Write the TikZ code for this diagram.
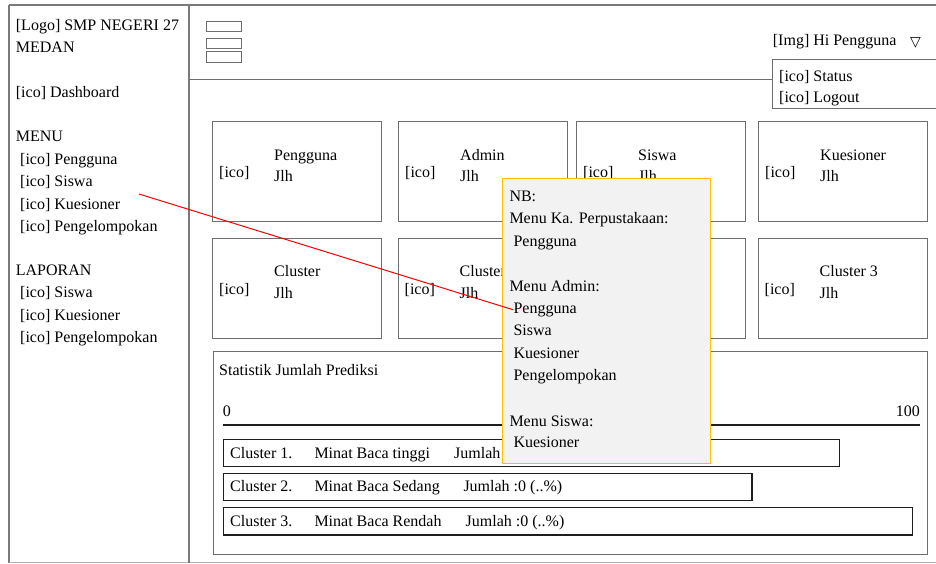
\documentclass[tikz,border=0pt]{standalone}
\usepackage{fontspec}
\setmainfont{Liberation Serif}
\newfontfamily\symfont{DejaVu Sans}
\definecolor{framegray}{HTML}{7A7A7A}
\definecolor{boxgray}{HTML}{6E6E6E}
\definecolor{bardark}{HTML}{1E1E1E}
\definecolor{notefill}{HTML}{F2F2F2}
\definecolor{noteedge}{HTML}{FFC000}
\definecolor{pointred}{HTML}{FF0000}
\begin{document}
\begin{tikzpicture}[x={(1pt,0pt)},y={(0pt,-1pt)},
  txt/.style={inner sep=0pt, anchor=base west, font=\fontsize{16}{19}\selectfont},
  txtr/.style={txt, anchor=base east},
  frameline/.style={draw=framegray, line width=1.4pt},
  thinline/.style={draw=boxgray, line width=0.9pt},
  cardbox/.style={draw=boxgray, line width=1pt, inner sep=0pt, anchor=north west,
                  minimum width=169pt, minimum height=100pt},
  barbox/.style={draw=bardark, line width=1.4pt},
  notebox/.style={draw=noteedge, fill=notefill, line width=1.3pt},
  pointer/.style={draw=pointred, line width=1pt}]

% page area
\useasboundingbox (0,0) rectangle (936,563);

% outer frame, sidebar and header
\draw[draw=framegray, line width=2.4pt] (9,5) -- (936,5);
\draw[frameline] (9,5) -- (9,563);
\draw[draw=black!30, line width=1.2pt] (9,562.3) -- (936,562.3);
\draw[frameline] (189,5) -- (189,563);
\coordinate (hdrL) at (189,79.5);
\coordinate (hdrR) at (772.7,79.5);
\draw[thinline] (hdrL) -- (hdrR);

% hamburger icon
\draw[thinline] (206,21) rectangle (241,31.5);
\draw[thinline] (206,38) rectangle (241,48);
\draw[thinline] (206,51.7) rectangle (241,62);

% sidebar menu
\node[txt] (logo) at (15.7,30.5) {[Logo] SMP NEGERI 27};
\node[txt] (medan) at (15.7,52) {MEDAN};
\node[txt] (dash) at (15.7,97) {[ico] Dashboard};
\node[txt] (menu) at (15.7,141.7) {MENU};
\node[txt] (mPeng) at (20,164) {[ico] Pengguna};
\node[txt] (mSis) at (20,186.7) {[ico] Siswa};
\node[txt] (mKues) at (20,209) {[ico] Kuesioner};
\node[txt] (mKel) at (20,231.5) {[ico] Pengelompokan};
\node[txt] (lap) at (15.7,275) {LAPORAN};
\node[txt] (lSis) at (20,297.7) {[ico] Siswa};
\node[txt] (lKues) at (20,320) {[ico] Kuesioner};
\node[txt] (lKel) at (20,342.5) {[ico] Pengelompokan};

% user menu in header
\node[txt] (user) at (772.7,45) {[Img] Hi Pengguna};
\node[inner sep=0pt, font=\symfont\fontsize{14}{14}\selectfont] (caret) at (915.5,42.5) {▽};
\draw[thinline] (940,59.3) -- (772.7,59.3) -- (772.7,108) -- (940,108);
\node[txt] (uStat) at (779,81.5) {[ico] Status};
\node[txt] (uOut) at (779,102) {[ico] Logout};

% summary cards, first row
\foreach \n/\x/\t in {1/212/Pengguna,2/398/Admin,3/576/Siswa,4/758/Kuesioner}{
  \node[cardbox] (cardA\n) at (\x,121) {};
  \node[txt] (cardAico\n) at (\x+7,177) {[ico]};
  \node[txt] (cardAt\n) at (\x+62,160) {\t};
  \node[txt] (cardAj\n) at (\x+62,181.5) {Jlh};
}
% summary cards, second row (the third one lies under the note)
\node[cardbox] (cardB3) at (575.5,238) {};
\foreach \n/\x/\t in {1/212/Cluster,2/397.5/Cluster,4/757.5/Cluster 3}{
  \node[cardbox] (cardB\n) at (\x,238) {};
  \node[txt] (cardBico\n) at (\x+7,294) {[ico]};
  \node[txt] (cardBt\n) at (\x+62,276.7) {\t};
  \node[txt] (cardBj\n) at (\x+62,298.5) {Jlh};
}

% statistics panel
\node[draw=boxgray, line width=1pt, inner sep=0pt, anchor=north west,
      minimum width=714pt, minimum height=203.8pt] (statbox) at (212.7,350.5) {};
\node[txt] (statT) at (219,375) {Statistik Jumlah Prediksi};
\node[txt] (ax0) at (222.7,416.7) {0};
\node[txtr] (ax100) at (920,416.7) {100};
\coordinate (axL) at (223.3,425);
\coordinate (axR) at (920,425);
\draw[draw=bardark, line width=2pt] (axL) -- (axR);

\draw[barbox] (223.3,439.3) rectangle (839.3,466.7);
\draw[barbox] (223.3,473.3) rectangle (752,500.7);
\draw[barbox] (223.3,507.3) rectangle (912.3,535);
\node[txt] (b1a) at (230,458.3) {Cluster 1.};
\node[txt] (b1b) at (314.3,458.3) {Minat Baca tinggi};
\node[txt] (b1c) at (454,458.3) {Jumlah};
\node[txt] (b2a) at (230,491.7) {Cluster 2.};
\node[txt] (b2b) at (314.3,491.7) {Minat Baca Sedang};
\node[txt] (b2c) at (463.3,491.7) {Jumlah :0 (..\%)};
\node[txt] (b3a) at (230,526) {Cluster 3.};
\node[txt] (b3b) at (314.3,526) {Minat Baca Rendah};
\node[txt] (b3c) at (465.5,526) {Jumlah :0 (..\%)};

% note on the menu rights
\node[notebox, inner sep=0pt, anchor=north west, minimum width=208pt,
      minimum height=284.7pt] (note) at (502,178) {};
\node[txt] (nb) at (509.3,201.5) {NB:};
\node[txt] (nKa) at (509.3,223.5) {Menu Ka. Perpustakaan:};
\node[txt] (nKa1) at (513.3,246) {Pengguna};
\node[txt] (nAd) at (509.3,291.7) {Menu Admin:};
\node[txt] (nAd1) at (513.3,313.3) {Pengguna};
\node[txt] (nAd2) at (513.3,335.7) {Siswa};
\node[txt] (nAd3) at (513.3,358.3) {Kuesioner};
\node[txt] (nAd4) at (513.3,380) {Pengelompokan};
\node[txt] (nSw) at (509.3,426.5) {Menu Siswa:};
\node[txt] (nSw1) at (513.3,447.3) {Kuesioner};

% pointer from the sidebar menu to the note
\coordinate (ptr) at (139,194);
\draw[pointer] (ptr) -- (nAd1.west);
\end{tikzpicture}
\end{document}
